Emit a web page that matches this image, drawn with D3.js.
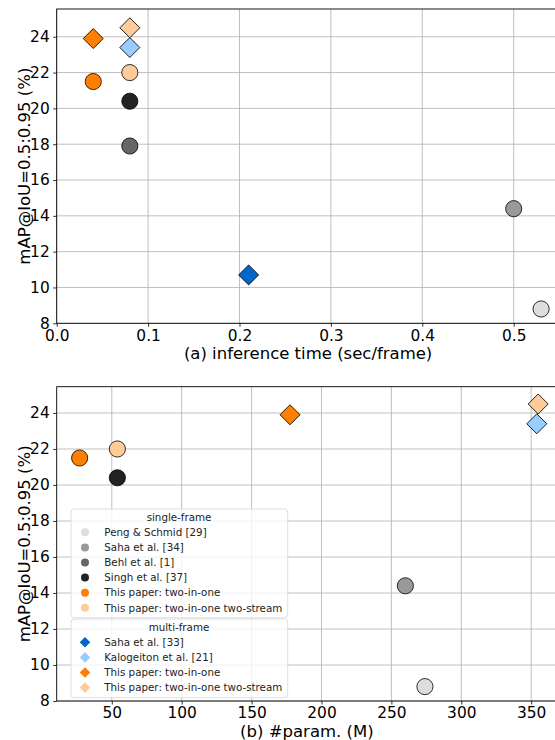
<!DOCTYPE html>
<html>
<head>
<meta charset="utf-8">
<script src="https://cdn.jsdelivr.net/npm/d3@7"></script>
<style>
  body { margin: 0; background: #fff; }
  svg { font-family: "DejaVu Sans", sans-serif; }
</style>
</head>
<body>
<svg id="chart" width="555" height="740"></svg>
<script>
// Methods, in legend order
const methods = [
  "Peng & Schmid [29]", "Saha et al. [34]", "Behl et al. [1]", "Singh et al. [37]",
  "This paper: two-in-one", "This paper: two-in-one two-stream",
  "Saha et al. [33]", "Kalogeiton et al. [21]",
  "This paper: two-in-one", "This paper: two-in-one two-stream"
];
const frameType = ["single", "single", "single", "single", "single", "single", "multi", "multi", "multi", "multi"];
const colors = ["#dddddd", "#999999", "#666666", "#222222", "#ff7f00", "#ffcc99", "#0066cc", "#99ccff", "#ff7f00", "#ffcc99"];

// values
const inferenceTime = [0.53, 0.50, 0.08, 0.08, 0.04, 0.08, 0.21, 0.08, 0.04, 0.08];
const numParams = [274, 260, null, 54, 27, 54, null, 354, 177.5, 355];
const mAP = [8.8, 14.4, 17.9, 20.4, 21.5, 22.0, 10.7, 23.4, 23.9, 24.5];

const timeTicks = [0, 0.1, 0.2, 0.3, 0.4, 0.5];
const paramTicks = [50, 100, 150, 200, 250, 300, 350];
const mapTicks = [8, 10, 12, 14, 16, 18, 20, 22, 24];

const svg = d3.select("#chart");
const left = 56.7;

const points = methods.map((m, i) => ({
  name: m, type: frameType[i], color: colors[i],
  time: inferenceTime[i], params: numParams[i], map: mAP[i]
}));

function drawPanel(cfg) {
  const x = d3.scaleLinear().domain(cfg.xDomain).range([left, cfg.right]);
  const y = d3.scaleLinear().domain(cfg.yDomain).range([cfg.bottom, cfg.top]);
  const g = svg.append("g");

  // grid
  g.append("g").selectAll("line").data(cfg.xTicks).join("line")
    .attr("x1", d => x(d)).attr("x2", d => x(d))
    .attr("y1", cfg.top).attr("y2", cfg.bottom)
    .attr("stroke", "#b0b0b0").attr("stroke-width", 0.8);
  g.append("g").selectAll("line").data(mapTicks).join("line")
    .attr("x1", left).attr("x2", cfg.right)
    .attr("y1", d => y(d)).attr("y2", d => y(d))
    .attr("stroke", "#b0b0b0").attr("stroke-width", 0.8);

  // axes
  const xAxis = g.append("g")
    .attr("transform", `translate(0,${cfg.bottom})`)
    .call(d3.axisBottom(x).tickValues(cfg.xTicks).tickFormat(cfg.xFormat).tickSize(3.5).tickPadding(3).tickSizeOuter(0));
  const yAxis = g.append("g")
    .attr("transform", `translate(${left},0)`)
    .call(d3.axisLeft(y).tickValues(mapTicks).tickSize(3.5).tickPadding(3.5).tickSizeOuter(0));
  [xAxis, yAxis].forEach(a => {
    a.select(".domain").remove();
    a.selectAll("text").attr("font-size", 15.4).attr("fill", "#000")
      .attr("font-family", "DejaVu Sans");
    a.selectAll("line").attr("stroke", "#000").attr("stroke-width", 0.8);
  });

  // frame
  g.append("rect")
    .attr("x", left).attr("y", cfg.top)
    .attr("width", cfg.right - left).attr("height", cfg.bottom - cfg.top)
    .attr("fill", "none").attr("stroke", "#000").attr("stroke-width", 0.9);

  // markers
  const data = points.filter(d => d[cfg.xKey] != null);
  g.append("g").selectAll("path").data(data).join("path")
    .attr("d", d => d.type === "single"
      ? d3.symbol(d3.symbolCircle, 205)()
      : d3.symbol(d3.symbolSquare, 200)())
    .attr("transform", d => `translate(${x(d[cfg.xKey])},${y(d.map)})` + (d.type === "multi" ? " rotate(45)" : ""))
    .attr("fill", d => d.color)
    .attr("stroke", "#000").attr("stroke-width", 0.8);

  // labels
  g.append("text")
    .attr("x", (left + cfg.right) / 2 - 2).attr("y", cfg.bottom + 35.5)
    .attr("text-anchor", "middle").attr("font-size", 16.5)
    .text(cfg.xLabel);
  g.append("text")
    .attr("transform", `translate(24,${(cfg.top + cfg.bottom) / 2}) rotate(-90)`)
    .attr("text-anchor", "middle").attr("dominant-baseline", "central").attr("font-size", 16.5)
    .text("mAP@IoU=0.5:0.95 (%)");
}

drawPanel({
  top: 9, bottom: 323.3, right: 563.5,
  xDomain: [0, 0.5545], yDomain: [8, 25.55],
  xTicks: timeTicks, xFormat: d3.format(".1f"), xKey: "time",
  xLabel: "(a) inference time (sec/frame)"
});

drawPanel({
  top: 386.7, bottom: 701, right: 561.1,
  xDomain: [10.6, 371.4], yDomain: [8, 25.46],
  xTicks: paramTicks, xFormat: d3.format("d"), xKey: "params",
  xLabel: "(b) #param. (M)"
});

// legends
function drawLegend(title, items, y0, height) {
  const lg = svg.append("g");
  lg.append("rect")
    .attr("x", 71).attr("y", y0).attr("width", 216.7).attr("height", height)
    .attr("rx", 3).attr("fill", "#fff").attr("fill-opacity", 0.8)
    .attr("stroke", "#d6d6d6").attr("stroke-width", 0.8);
  lg.append("text")
    .attr("x", 179).attr("y", y0 + 11.5).attr("text-anchor", "middle")
    .attr("font-size", 10.3).attr("fill", "#222").text(title);
  items.forEach((d, i) => {
    const cy = y0 + 23.3 + i * 15.1;
    lg.append("path")
      .attr("d", d.type === "single" ? d3.symbol(d3.symbolCircle, 50)() : d3.symbol(d3.symbolSquare, 56)())
      .attr("transform", `translate(85,${cy})` + (d.type === "multi" ? " rotate(45)" : ""))
      .attr("fill", d.color);
    lg.append("text")
      .attr("x", 104.3).attr("y", cy + 3.7)
      .attr("font-size", 10.3).attr("fill", "#222").text(d.name);
  });
}

drawLegend("single-frame", points.filter(d => d.type === "single"), 509, 108.7);
drawLegend("multi-frame", points.filter(d => d.type === "multi"), 619, 78.7);
</script>
</body>
</html>
